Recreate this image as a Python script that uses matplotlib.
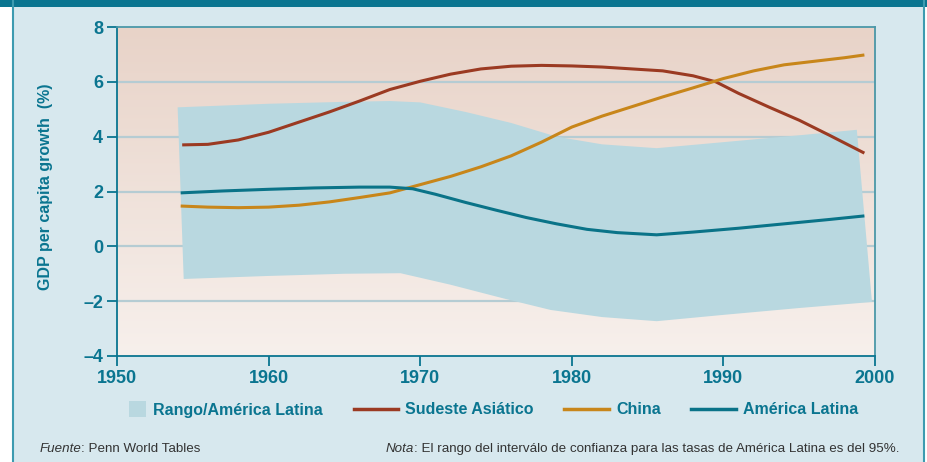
import numpy as np
import matplotlib
matplotlib.use("Agg")
import matplotlib.pyplot as plt
from matplotlib.patches import Rectangle
from matplotlib.legend_handler import HandlerPatch
from matplotlib.lines import Line2D
from matplotlib.colors import LinearSegmentedColormap

plt.rcParams['font.family'] = ['Liberation Sans Narrow', 'Liberation Sans', 'DejaVu Sans']

# ---------------- data ----------------
sea_years = [1954.3, 1956, 1958, 1960, 1962, 1964, 1966, 1968, 1970, 1972, 1974, 1976,
             1978, 1980, 1982, 1984, 1986, 1988, 1989.5, 1991, 1993, 1995, 1997, 1999.3]
sea_vals = [3.70, 3.72, 3.88, 4.16, 4.53, 4.90, 5.30, 5.72, 6.02, 6.28, 6.47, 6.57,
            6.60, 6.58, 6.54, 6.47, 6.40, 6.22, 6.00, 5.58, 5.08, 4.60, 4.05, 3.40]

china_years = [1954.2, 1956, 1958, 1960, 1962, 1964, 1966, 1968, 1970, 1972, 1974, 1976,
               1978, 1980, 1982, 1984, 1986, 1988, 1990, 1992, 1994, 1996, 1998, 1999.3]
china_vals = [1.47, 1.43, 1.41, 1.43, 1.50, 1.62, 1.78, 1.95, 2.25, 2.55, 2.90, 3.30,
              3.80, 4.35, 4.75, 5.10, 5.45, 5.78, 6.12, 6.40, 6.62, 6.75, 6.88, 6.98]

al_years = [1954.2, 1957, 1960, 1963, 1966, 1968, 1969.5, 1971, 1973, 1975, 1977, 1979,
            1981, 1983, 1985.6, 1988, 1991, 1994, 1997, 1999.3]
al_vals = [1.95, 2.02, 2.08, 2.13, 2.16, 2.16, 2.10, 1.90, 1.60, 1.32, 1.05, 0.82,
           0.62, 0.50, 0.42, 0.52, 0.66, 0.82, 0.98, 1.11]

band_up_years = [1954.0, 1960, 1965, 1968, 1970, 1973, 1976, 1979, 1982, 1985.6, 1990, 1995, 1998.8]
band_up_vals = [5.07, 5.20, 5.27, 5.30, 5.25, 4.90, 4.50, 4.00, 3.72, 3.58, 3.80, 4.05, 4.25]
band_lo_years = [1954.4, 1960, 1965, 1968.7, 1972, 1975.5, 1978.6, 1982, 1985.6, 1990, 1995, 1999.8]
band_lo_vals = [-1.19, -1.08, -1.00, -0.98, -1.40, -1.90, -2.32, -2.58, -2.73, -2.50, -2.25, -2.03]

x_ticks = [1950, 1960, 1970, 1980, 1990, 2000]
y_ticks = [-4, -2, 0, 2, 4, 6, 8]
y_ticklabels = ['\u20134', '\u20132', '0', '2', '4', '6', '8']

labels = ['Rango/América Latina', 'Sudeste Asiático', 'China', 'América Latina']

# ---------------- style ----------------
TEAL = '#0a7590'
PANEL = '#d7e8ee'
BAND = '#b9d8e0'
GRID = '#b5ccd3'
C_SEA = '#9b3a22'
C_CHINA = '#c8861a'
C_AL = '#0a7388'

fig = plt.figure(figsize=(9.27, 4.62), dpi=100)
fig.patch.set_facecolor('white')

# panel background and borders
fig.add_artist(Rectangle((13/927, 0), (924-13)/927, 1, transform=fig.transFigure,
                         facecolor=PANEL, edgecolor='none', zorder=-10))
fig.add_artist(Rectangle((0, 1-6.5/462), 1, 6.5/462, transform=fig.transFigure,
                         facecolor=TEAL, edgecolor='none', zorder=-9))
fig.add_artist(Line2D([13/927, 13/927], [0, 1], transform=fig.transFigure,
                      color='#3d9bb0', lw=1.5, zorder=-8))
fig.add_artist(Line2D([924/927, 924/927], [0, 1], transform=fig.transFigure,
                      color='#3d9bb0', lw=1.5, zorder=-8))

ax = fig.add_axes([117/927, 1-356/462, (875-117)/927, (356-27)/462])
ax.set_facecolor('none')

# gradient background (darker at top)
grad = np.linspace(0, 1, 256).reshape(-1, 1)
cmap = LinearSegmentedColormap.from_list('bg', ['#e8d3c8', '#f7f0ec'])
ax.imshow(grad, cmap=cmap, aspect='auto', extent=[0, 1, 0, 1], origin='upper',
          transform=ax.transAxes, zorder=-5, interpolation='bilinear')

ax.set_xlim(1950, 2000)
ax.set_ylim(-4, 8)

for yv in y_ticks[1:-1]:
    ax.axhline(yv, color=GRID, lw=1.6, zorder=1)

band_x = np.concatenate([band_up_years, band_lo_years[::-1]])
band_y = np.concatenate([band_up_vals, band_lo_vals[::-1]])
ax.fill(band_x, band_y, color=BAND, lw=0, zorder=2)

ax.plot(sea_years, sea_vals, color=C_SEA, lw=2.2, zorder=3, solid_capstyle='butt')
ax.plot(china_years, china_vals, color=C_CHINA, lw=2.2, zorder=3, solid_capstyle='butt')
ax.plot(al_years, al_vals, color=C_AL, lw=2.2, zorder=4, solid_capstyle='butt')

for side in ['left', 'bottom']:
    ax.spines[side].set_color(TEAL)
    ax.spines[side].set_linewidth(1.3)
for side in ['top', 'right']:
    ax.spines[side].set_color('#4a98a8')
    ax.spines[side].set_linewidth(1.3)

ax.set_xticks(x_ticks)
ax.set_yticks(y_ticks)
ax.set_yticklabels(y_ticklabels)
ax.tick_params(axis='both', colors=TEAL, length=7, width=1.3, labelsize=13,
               labelcolor=TEAL)
ax.tick_params(axis='x', pad=3)
ax.tick_params(axis='y', pad=3)
for lab in ax.get_xticklabels() + ax.get_yticklabels():
    lab.set_fontweight('bold')

ax.set_ylabel('GDP per capita growth  (%)', color=TEAL, fontsize=11.5,
              fontweight='bold')
ax.yaxis.set_label_coords(-0.085, 0.514)

# legend
class SquareHandler(HandlerPatch):
    def create_artists(self, legend, orig_handle, xdescent, ydescent, width, height,
                       fontsize, trans):
        s = height * 1.5
        r = Rectangle((width - s - xdescent, -ydescent + (height - s) / 2), s, s,
                      facecolor=BAND, edgecolor='none', transform=trans)
        return [r]

handles = [Rectangle((0, 0), 1, 1, facecolor=BAND, edgecolor='none'),
           Line2D([], [], color=C_SEA, lw=2.5),
           Line2D([], [], color=C_CHINA, lw=2.5),
           Line2D([], [], color=C_AL, lw=2.5)]
leg = fig.legend(handles, labels, loc='center', bbox_to_anchor=(480/927, 1-410/462),
                 ncol=4, frameon=False, handlelength=2.8, handletextpad=0.45,
                 columnspacing=1.9, prop={'weight': 'bold', 'size': 11.5},
                 handler_map={Rectangle: SquareHandler()})
for t in leg.get_texts():
    t.set_color(TEAL)

# footer
FS = 9.6
t1 = fig.text(40/927, 1-449/462, 'Fuente', fontsize=FS, style='italic',
              color='#333333', va='center', ha='left')
ax.annotate(': Penn World Tables', xy=(1, 0.5), xycoords=t1, va='center', ha='left',
            xytext=(-0.5, 0), textcoords='offset points',
            fontsize=FS, color='#333333', annotation_clip=False)
t2 = fig.text(386/927, 1-449/462, 'Nota', fontsize=FS, style='italic',
              color='#333333', va='center', ha='left')
ax.annotate(': El rango del interválo de confianza para las tasas de América Latina es del 95%.',
            xy=(1, 0.5), xycoords=t2, va='center', ha='left',
            xytext=(-0.5, 0), textcoords='offset points',
            fontsize=FS, color='#333333', annotation_clip=False)

fig.savefig('out.png', dpi=100, facecolor=fig.get_facecolor())
